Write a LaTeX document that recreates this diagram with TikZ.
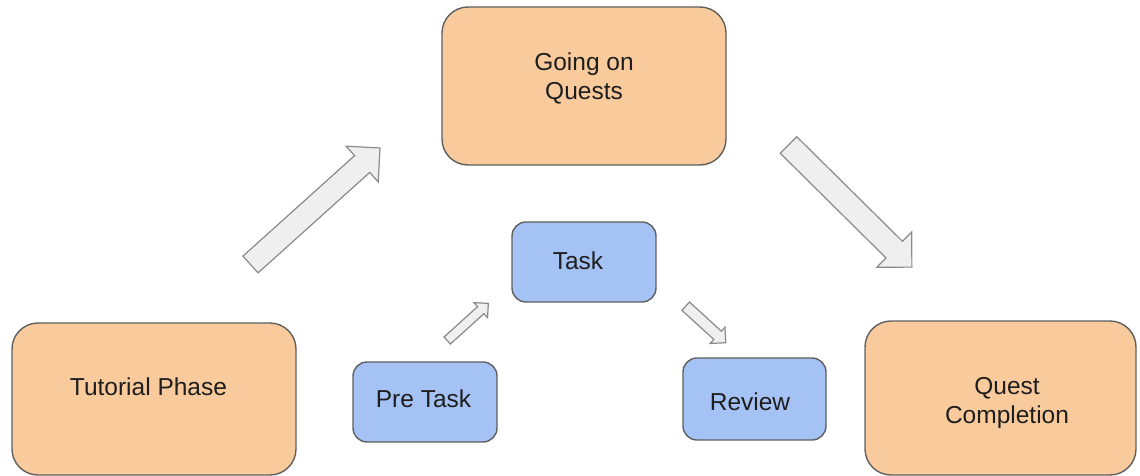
\documentclass[tikz,border=0pt]{standalone}
\usepackage{fontspec}
\setmainfont{Liberation Sans}
\definecolor{orangebox}{HTML}{F9CB9C}
\definecolor{bluebox}{HTML}{A4C2F4}
\definecolor{boxline}{HTML}{5F5F5F}
\definecolor{arrowfill}{HTML}{EFEFEF}
\definecolor{arrowline}{HTML}{8A8A8A}
\definecolor{txt}{HTML}{1E1E1E}
\newcommand{\blockarrow}[8]{%
  \begin{scope}[shift={(#1,#2)}, rotate=#3]
    \draw[barrow] (0,-#5) coordinate (#8-t1) -- (#4-#7,-#5) -- (#4-#7,-#6) -- (#4,0) coordinate (#8-tip) -- (#4-#7,#6) -- (#4-#7,#5) -- (0,#5) coordinate (#8-t2) -- cycle;
  \end{scope}}
\begin{document}
\begin{tikzpicture}[x=0.5pt, y=-0.5pt,
  bigbox/.style={draw=boxline, line width=0.7pt, fill=orangebox, rounded corners=13pt, inner sep=0pt},
  smallbox/.style={draw=boxline, line width=0.7pt, fill=bluebox, rounded corners=7pt, inner sep=0pt, minimum width=72pt, minimum height=40pt},
  lbl/.style={font=\fontsize{12.25}{14.5}\selectfont, text=txt, inner sep=0pt, align=center},
  barrow/.style={draw=arrowline, fill=arrowfill, line width=0.6pt, line join=miter}]
\useasboundingbox (0,0) rectangle (1140,476);
% boxes
\node[bigbox, minimum width=142pt, minimum height=76pt] (tut) at (154,399) {};
\node[bigbox, minimum width=142pt, minimum height=79pt] (going) at (584,86) {};
\node[bigbox, minimum width=135.5pt, minimum height=77pt] (qc) at (1000.5,398) {};
\node[smallbox] (task) at (584,262) {};
\node[smallbox] (pre) at (425,402) {};
\node[smallbox, minimum width=71.5pt, minimum height=41pt] (rev) at (754.5,399) {};
% labels
\node[lbl, anchor=base] (tutT) at (148.5,395) {Tutorial Phase};
\node[lbl] (goingT) at (584,78) {Going on\\Quests};
\node[lbl] (qcT) at (1007,402.5) {Quest\\Completion};
\node[lbl, anchor=base] (taskT) at (578,269) {Task};
\node[lbl, anchor=base] (preT) at (423.5,407) {Pre Task};
\node[lbl, anchor=base] (revT) at (750,410) {Review};
% block arrows
\blockarrow{250.5}{264.5}{41.98}{174.2}{11.3}{24}{24}{a1}
\blockarrow{788.5}{145}{-44.7}{173.6}{11.7}{24.8}{24.8}{a2}
\blockarrow{447.2}{340.5}{42.1}{55.4}{4.75}{10.15}{10.15}{a3}
\blockarrow{685.7}{306.2}{-42.4}{54.2}{5.6}{11}{11}{a4}
\end{tikzpicture}
\end{document}
